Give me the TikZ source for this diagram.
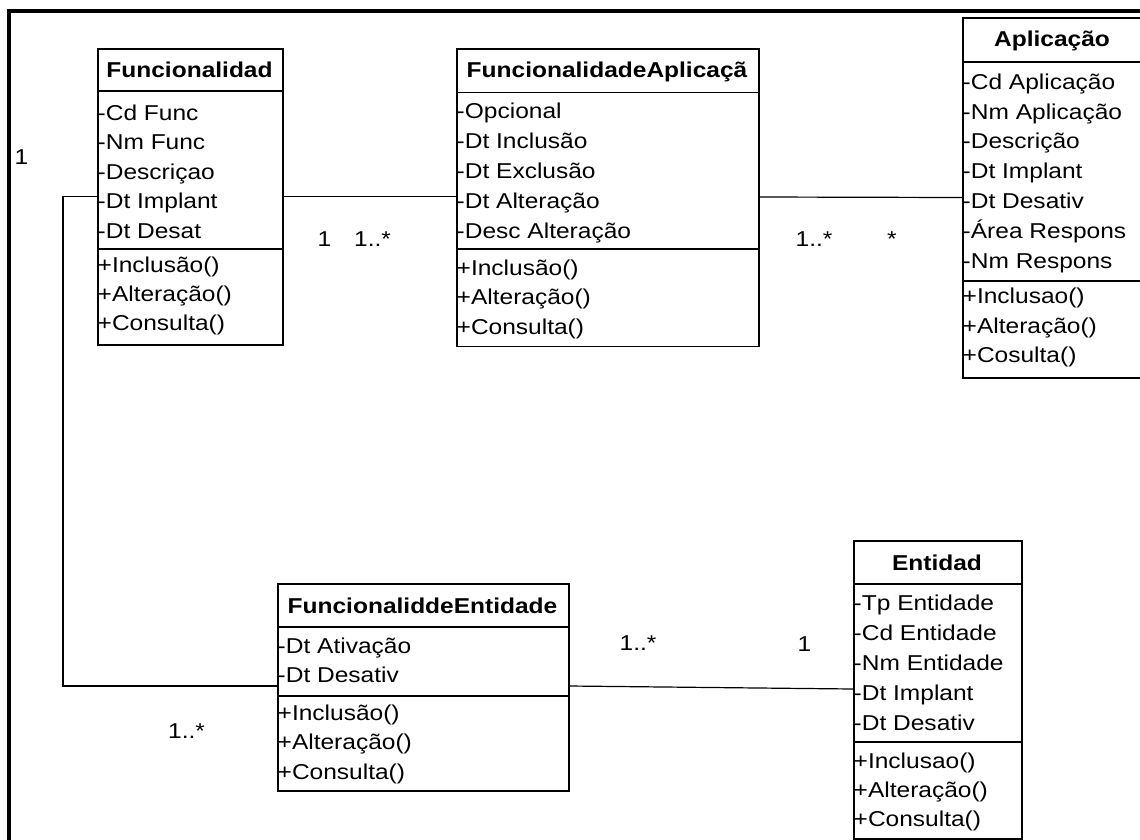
\documentclass[tikz,border=0pt]{standalone}
\usepackage{fontspec}
\setmainfont{Liberation Sans}[FakeStretch=1.14]
% one text line of a class compartment per list item
\newcommand{\classrows}[5]{%
  \foreach \t [count=\i] in {#5} {\node[row] (#1\i) at (#2,{#3+#4*(\i-1)}) {\t};}}
\begin{document}
\begin{tikzpicture}[x=1pt,y=-1pt,
  box/.style={draw, line width=1.8pt, rectangle, inner sep=0pt, anchor=north west},
  rule/.style={line width=1.8pt},
  link/.style={line width=1.2pt},
  frame/.style={line width=4pt},
  row/.style={anchor=base west, inner sep=0pt, font=\fontsize{21.5}{25}\selectfont},
  head/.style={anchor=base, inner sep=0pt, font=\fontsize{21.5}{25}\selectfont\bfseries},
  mult/.style={anchor=base west, inner sep=0pt, font=\fontsize{21.5}{25}\selectfont}]
\useasboundingbox (0,0) rectangle (1140,839);
\clip (0,0) rectangle (1140,839);

% outer frame
\draw[frame] (9,11.3) rectangle (1160,860);

% class Funcionalidad
\node[box, minimum width=185pt, minimum height=296pt] (func) at (97,48) {};
\draw[rule] (func.west |- 0,91) -- (func.east |- 0,91);
\draw[rule] (func.west |- 0,249) -- (func.east |- 0,249);
\node[head] (func-h) at (189.5,77.3) {Funcionalidad};
\classrows{func-a}{97.5}{120}{29.5}{-Cd Func,-Nm Func,-Descriçao,-Dt Implant,-Dt Desat}
\classrows{func-m}{97.5}{272.5}{29}{+Inclusão(),+Alteração(),+Consulta()}

% class FuncionalidadeAplicação
\node[box, minimum width=302pt, minimum height=297.5pt] (fa) at (456,48) {};
\draw[rule] (fa.west |- 0,92.5) -- (fa.east |- 0,92.5);
\draw[rule] (fa.west |- 0,249) -- (fa.east |- 0,249);
\node[head] (fa-h) at (607,77.3) {FuncionalidadeAplicaçã};
\classrows{fa-a}{456.5}{118.7}{29.9}{-Opcional,-Dt Inclusão,-Dt Exclusão,-Dt Alteração,-Desc Alteração}
\classrows{fa-m}{456.5}{275}{29.5}{+Inclusão(),+Alteração(),+Consulta()}

% class Aplicação
\node[box, minimum width=180pt, minimum height=359.4pt] (app) at (962,17.3) {};
\draw[rule] (app.west |- 0,62.3) -- (app.east |- 0,62.3);
\draw[rule] (app.west |- 0,280.7) -- (app.east |- 0,280.7);
\node[head] (app-h) at (1052,46.7) {Aplicação};
\classrows{app-a}{962.5}{89.3}{29.83}{-Cd Aplicação,-Nm Aplicação,-Descrição,-Dt Implant,-Dt Desativ,-Área Respons,-Nm Respons}
\classrows{app-m}{962.5}{303.3}{29.7}{+Inclusao(),+Alteração(),+Cosulta()}

% class FuncionaliddeEntidade
\node[box, minimum width=291pt, minimum height=206.7pt] (fe) at (277,583.3) {};
\draw[rule] (fe.west |- 0,627.3) -- (fe.east |- 0,627.3);
\draw[rule] (fe.west |- 0,696) -- (fe.east |- 0,696);
\node[head] (fe-h) at (422.5,613.3) {FuncionaliddeEntidade};
\classrows{fe-a}{277.5}{653.3}{29}{-Dt Ativação,-Dt Desativ}
\classrows{fe-m}{277.5}{720}{29.5}{+Inclusão(),+Alteração(),+Consulta()}

% class Entidad
\node[box, minimum width=168pt, minimum height=298pt] (ent) at (853,540) {};
\draw[rule] (ent.west |- 0,584) -- (ent.east |- 0,584);
\draw[rule] (ent.west |- 0,742) -- (ent.east |- 0,742);
\node[head] (ent-h) at (937,570) {Entidad};
\classrows{ent-a}{853.5}{610}{30}{-Tp Entidade,-Cd Entidade,-Nm Entidade,-Dt Implant,-Dt Desativ}
\classrows{ent-m}{853.5}{768.3}{29.2}{+Inclusao(),+Alteração(),+Consulta()}

% associations
\coordinate (bend) at (63,686);
\draw[link] (func.west |- 0,196.7) -| (bend) -- (fe.west |- bend);
\draw[link] (func.east |- 0,196.7) -- (fa.west |- 0,196.7);
\draw[link] (fa.east |- 0,197) -- (app.west |- 0,197.5);
\draw[link] (fe.east |- 0,686) -- (ent.west |- 0,689);

% multiplicities
\node[mult] (m1) at (14.5,164) {1};
\node[mult] (m2) at (317.5,246.7) {1};
\node[mult] (m3) at (354,246.7) {1..*};
\node[mult] (m4) at (795.5,246.7) {1..*};
\node[mult] (m5) at (887,246.7) {*};
\node[mult] (m6) at (168,738) {1..*};
\node[mult] (m7) at (619.5,650) {1..*};
\node[mult] (m8) at (797.5,651.7) {1};
\end{tikzpicture}
\end{document}
